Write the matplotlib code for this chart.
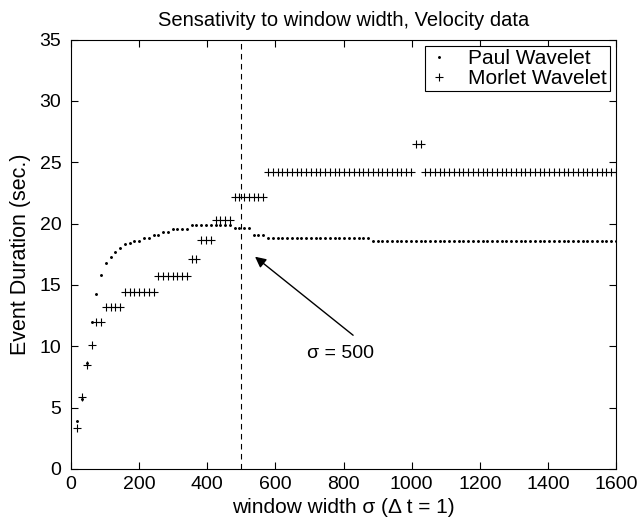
import numpy as np
import matplotlib
matplotlib.use("Agg")
import matplotlib.pyplot as plt

plt.rcParams['font.family'] = ['Liberation Sans', 'DejaVu Sans']

# window widths (sampling grid)
window = np.arange(18, 1601, 14)

# Paul wavelet: early points one by one, then flat runs (value, count)
paul_early = [3.9, 5.7, 8.6, 12.0, 14.3, 15.8, 16.8, 17.3, 17.7, 18.0,
              18.3, 18.45, 18.6, 18.6, 18.8, 18.85, 19.05, 19.1, 19.3, 19.3]
paul_runs = [19.55, 19.85, 19.6, 19.1, 18.85, 18.6]
paul_counts = [4, 9, 4, 3, 22, 52]

# Morlet wavelet: flat runs (value, count)
morlet_runs = [3.3, 5.9, 8.5, 10.1, 12.0, 13.2, 14.4, 15.7, 17.1, 18.7,
               20.3, 22.2, 24.2, 26.5, 24.2]
morlet_counts = [1, 1, 1, 1, 2, 4, 7, 7, 2, 3, 4, 7, 31, 2, 41]

paul = np.concatenate([paul_early, np.repeat(paul_runs, paul_counts)])
morlet = np.repeat(morlet_runs, morlet_counts)

fig = plt.figure(figsize=(6.41, 5.25), dpi=100)
ax = fig.add_axes([0.111, 0.1067, 0.850, 0.818])

ax.plot(window, paul, '.', color='black', markersize=2.2, label='Paul Wavelet')
ax.plot(window, morlet, '+', color='black', markersize=6, mew=0.8, label='Morlet Wavelet')

ax.axvline(500, color='black', linestyle='--', linewidth=0.8, dashes=(5, 4))

# arrow pointing at the sigma = 500 drop
ax.annotate('', xy=(540, 17.3), xytext=(828, 10.9),
            arrowprops=dict(arrowstyle='-|>', color='black', lw=1.0,
                            mutation_scale=16, shrinkA=0, shrinkB=0))
ax.text(790, 9.4, 'σ = 500', fontsize=14, ha='center', va='center')

ax.set_xlim(0, 1600)
ax.set_ylim(0, 35)
ax.set_xticks(np.arange(0, 1601, 200))
ax.set_yticks(np.arange(0, 36, 5))
ax.tick_params(direction='in', top=True, right=True, labelsize=14, length=5)
ax.tick_params(axis='x', pad=5)
ax.tick_params(axis='y', pad=7)
for s in ax.spines.values():
    s.set_linewidth(0.8)

ax.set_title('Sensativity to window width, Velocity data', fontsize=14.5, pad=10)
ax.set_xlabel('window width σ (Δ t = 1)', fontsize=15, labelpad=4)
ax.set_ylabel('Event Duration (sec.)', fontsize=15.5, labelpad=6)

leg = ax.legend(loc='upper right', fontsize=15, fancybox=False, framealpha=1,
                edgecolor='black', borderaxespad=0.3, handletextpad=0.9,
                borderpad=0.15, labelspacing=0.05, handlelength=1.0)
leg.get_frame().set_linewidth(0.8)

fig.savefig('out.png', dpi=100)
